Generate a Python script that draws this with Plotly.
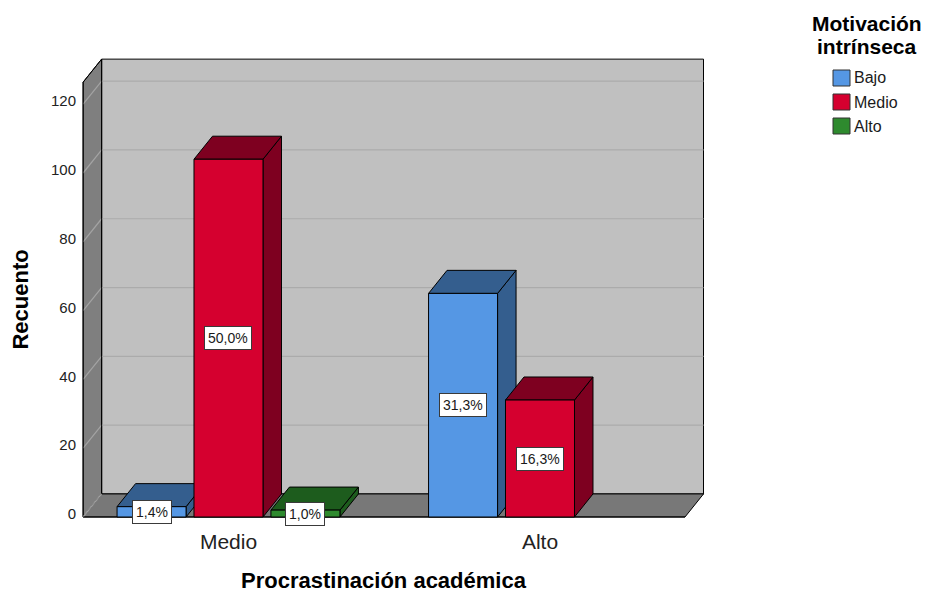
import plotly.graph_objects as go
from decimal import Decimal, ROUND_HALF_UP

# ---- data -------------------------------------------------------------
categories = ["Medio", "Alto"]                 # Procrastinación académica
series_names = ["Bajo", "Medio", "Alto"]       # Motivación intrínseca
bajo = [3, 65]
medio = [104, 34]
alto = [2, 0]
y_ticks = [0, 20, 40, 60, 80, 100, 120]

# ---- style ------------------------------------------------------------
FONT = "Liberation Sans, Arial, sans-serif"
front_colors = ["#5597E4", "#D5002F", "#2E8A2E"]
shade_colors = ["#345E8E", "#7E0020", "#1D5C1D"]
WALL_SIDE = "#7F7F7F"
WALL_BACK = "#C0C0C0"
FLOOR = "#787878"
GRID = "#ABABAB"
GRID_SIDE = "#A4A4A4"

FIG_W, FIG_H = 928, 592
M_L, M_R, M_T, M_B = 80, 216, 50, 70
PLOT_W = FIG_W - M_L - M_R
PLOT_H = FIG_H - M_T - M_B

# 3D box geometry in axis units
X_RANGE = [-0.4767, 1.5522]
Y_RANGE = [-1.4535, 135.756]
X_WALL_L, X_WALL_R = -0.4667, 1.4655
Y_WALL_TOP = 126.4
DX, DY = 0.0594, 6.7          # depth offset (back plane relative to front)
BAR_W, BAR_STEP = 0.2215, 0.247


def px_x(px):
    return (px - M_L) / PLOT_W


def px_y(py):
    return 1 - (py - M_T) / PLOT_H


def poly(xs, ys, fill, line_color="black", width=1.0):
    return go.Scatter(
        x=list(xs) + [xs[0]], y=list(ys) + [ys[0]],
        mode="lines", fill="toself", fillcolor=fill,
        line=dict(color=line_color, width=width),
        hoverinfo="skip", showlegend=False,
    )


def seg(x0, y0, x1, y1, color, width=1.0):
    return go.Scatter(
        x=[x0, x1], y=[y0, y1], mode="lines",
        line=dict(color=color, width=width),
        hoverinfo="skip", showlegend=False,
    )


def pct_label(count, total):
    p = Decimal(count * 100) / Decimal(total)
    p = p.quantize(Decimal("0.1"), rounding=ROUND_HALF_UP)
    return f"{p}".replace(".", ",") + "%"


traces = []

# back wall
traces.append(poly(
    [X_WALL_L + DX, X_WALL_R + DX, X_WALL_R + DX, X_WALL_L + DX],
    [DY, DY, Y_WALL_TOP + DY, Y_WALL_TOP + DY], WALL_BACK))
# left wall
traces.append(poly(
    [X_WALL_L, X_WALL_L + DX, X_WALL_L + DX, X_WALL_L],
    [0, DY, Y_WALL_TOP + DY, Y_WALL_TOP], WALL_SIDE))
# gridlines on the back wall and the side wall
for t in y_ticks:
    if t > 0:
        traces.append(seg(X_WALL_L + DX, t + DY, X_WALL_R + DX, t + DY, GRID, 1.2))
    traces.append(seg(X_WALL_L, t, X_WALL_L + DX, t + DY, GRID_SIDE, 1.2))
# redraw wall outlines over the grid
traces.append(seg(X_WALL_L + DX, DY, X_WALL_L + DX, Y_WALL_TOP + DY, "black"))
traces.append(seg(X_WALL_L, 0, X_WALL_L, Y_WALL_TOP, "black"))
traces.append(seg(X_WALL_L, Y_WALL_TOP, X_WALL_L + DX, Y_WALL_TOP + DY, "black"))
# floor
traces.append(poly(
    [X_WALL_L, X_WALL_R, X_WALL_R + DX, X_WALL_L + DX],
    [0, 0, DY, DY], FLOOR))
traces.append(seg(X_WALL_L, 0, X_WALL_L + DX, DY, GRID_SIDE, 1.2))
traces.append(seg(X_WALL_L, 0, X_WALL_R, 0, "black"))

# bars
values = [bajo, medio, alto]
total = sum(sum(v) for v in values)
annotations = []
for s, (vals, fc, sc) in enumerate(zip(values, front_colors, shade_colors)):
    for c, h in enumerate(vals):
        if h <= 0:
            continue
        x0 = c + (s - 1) * BAR_STEP - BAR_W / 2
        x1 = x0 + BAR_W
        # right side face
        traces.append(poly([x1, x1 + DX, x1 + DX, x1], [0, DY, h + DY, h], sc))
        # top face
        traces.append(poly([x0, x1, x1 + DX, x0 + DX], [h, h, h + DY, h + DY], sc))
        # front face
        traces.append(poly([x0, x1, x1, x0], [0, 0, h, h], fc))
        annotations.append(dict(
            x=(x0 + x1) / 2, y=h / 2, xref="x", yref="y",
            xanchor="center", yanchor="middle",
            text=pct_label(h, total), showarrow=False,
            font=dict(family=FONT, size=14, color="#1a1a1a"),
            bgcolor="white", bordercolor="#3a3a3a", borderwidth=1, borderpad=3,
        ))

fig = go.Figure(traces)

# axis titles
annotations.append(dict(
    x=(X_WALL_L + X_WALL_R) / 2, y=px_y(580), xref="x", yref="paper",
    text="<b>Procrastinación académica</b>", showarrow=False,
    font=dict(family=FONT, size=22, color="black"),
    xanchor="center", yanchor="middle",
))
annotations.append(dict(
    x=px_x(21), y=Y_WALL_TOP / 2, xref="paper", yref="y",
    text="<b>Recuento</b>", showarrow=False, textangle=-90,
    font=dict(family=FONT, size=22, color="black"),
    xanchor="center", yanchor="middle",
))

# legend
annotations.append(dict(
    x=px_x(867), y=px_y(23), xref="paper", yref="paper",
    text="<b>Motivación</b>", showarrow=False,
    font=dict(family=FONT, size=21, color="black"),
    xanchor="center", yanchor="middle",
))
annotations.append(dict(
    x=px_x(867), y=px_y(46), xref="paper", yref="paper",
    text="<b>intrínseca</b>", showarrow=False,
    font=dict(family=FONT, size=21, color="black"),
    xanchor="center", yanchor="middle",
))
shapes = []
for i, (name, fc) in enumerate(zip(series_names, front_colors)):
    cy = 78 + i * 24
    shapes.append(dict(
        type="rect", xref="paper", yref="paper",
        x0=px_x(833), x1=px_x(850), y0=px_y(cy + 8), y1=px_y(cy - 8),
        fillcolor=fc, line=dict(color="#333333", width=1),
    ))
    annotations.append(dict(
        x=px_x(852), y=px_y(cy), xref="paper", yref="paper",
        text=name, showarrow=False, xanchor="left", yanchor="middle",
        font=dict(family=FONT, size=16, color="#1a1a1a"),
    ))

fig.update_layout(
    width=FIG_W, height=FIG_H,
    margin=dict(l=M_L, r=M_R, t=M_T, b=M_B),
    paper_bgcolor="white", plot_bgcolor="white",
    showlegend=False,
    annotations=annotations, shapes=shapes,
    xaxis=dict(
        range=X_RANGE, showgrid=False, zeroline=False, showline=False,
        tickmode="array", tickvals=list(range(len(categories))), ticktext=categories,
        tickfont=dict(family=FONT, size=21, color="#222222"),
        ticks="", ticklabelstandoff=5, fixedrange=True,
    ),
    yaxis=dict(
        range=Y_RANGE, showgrid=False, zeroline=False, showline=False,
        tickmode="array", tickvals=y_ticks,
        tickfont=dict(family=FONT, size=15, color="#222222"),
        ticks="", ticklabelstandoff=3, ticklabelshift=-3, fixedrange=True,
    ),
)

fig.write_html("out.html")
